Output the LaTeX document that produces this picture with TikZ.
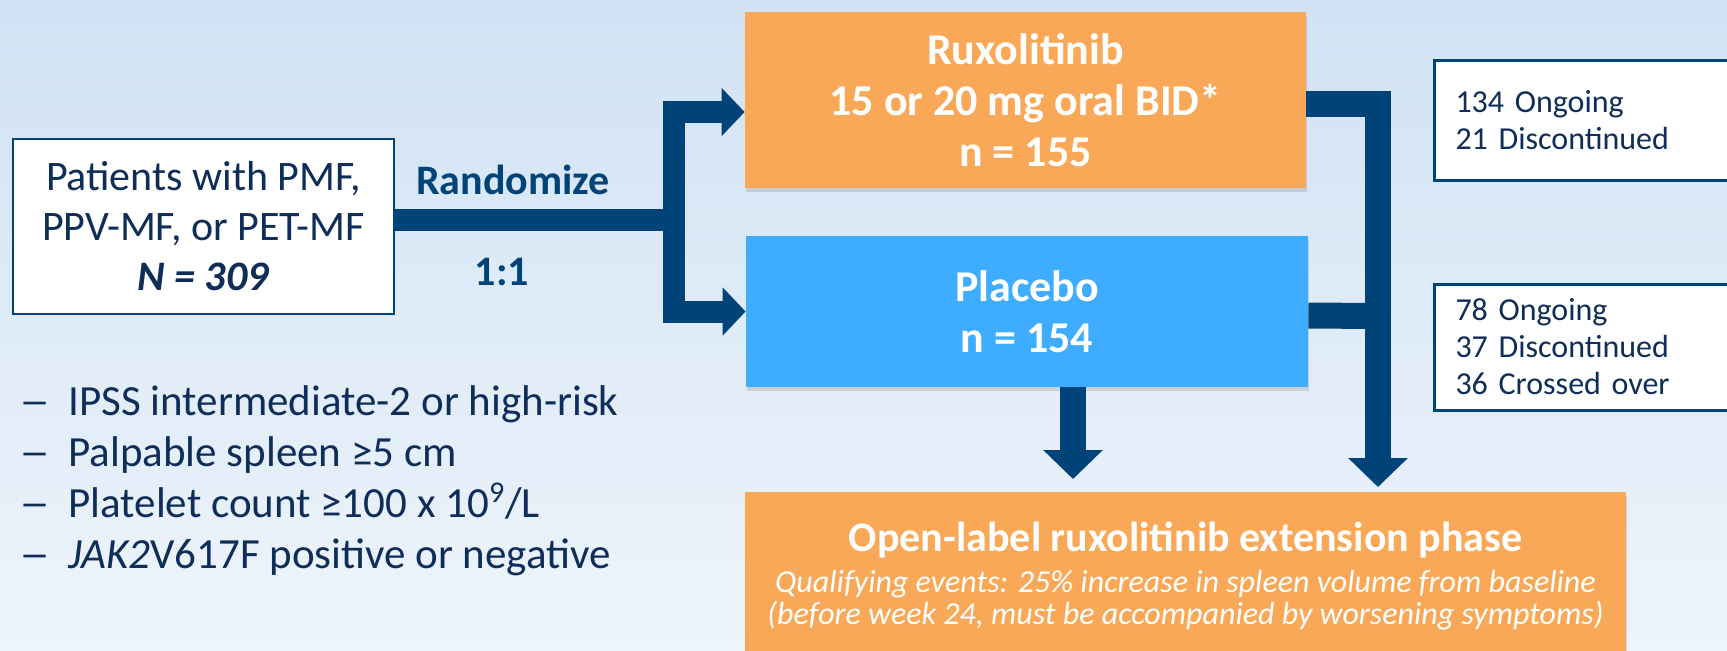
\documentclass[tikz,border=0pt]{standalone}
\usepackage{fontspec}
\usepackage{graphicx}
\setmainfont{Carlito}
\usetikzlibrary{arrows.meta,positioning,shadows}
\definecolor{cBgTop}{RGB}{208,226,244}
\definecolor{cBgBot}{RGB}{238,244,251}
\definecolor{cNavy} {RGB}{0,67,120}
\definecolor{cInk}  {RGB}{14,45,88}
\definecolor{cRux}  {RGB}{249,168,87}
\definecolor{cPbo}  {RGB}{62,172,255}
\tikzset{
  whitebox/.style={draw=cNavy,fill=white,line width=0.6pt,inner sep=0pt,align=center,
                   text=cInk,font=\fontsize{21}{25}\selectfont},
  armbox/.style={inner sep=0pt,align=center,text=white,
                 font=\bfseries\fontsize{22}{25.5}\selectfont,
                 drop shadow={shadow xshift=0.5pt,shadow yshift=-2pt,opacity=.25}},
  statbox/.style={draw=cNavy,fill=white,line width=1.5pt,inner xsep=10.5pt,inner ysep=0pt,
                  text width=142pt,align=left,text=cInk,font=\fontsize{16}{18.5}\selectfont},
  lbl/.style={inner sep=0pt,text=cNavy,font=\bfseries\fontsize{21}{25}\selectfont},
  crit/.style={inner sep=0pt,align=left,text=cInk,font=\fontsize{21.5}{25.6}\selectfont},
  bar/.style={draw=cNavy,line width=11pt},
  barR/.style={draw=cNavy,line width=13pt},
  headL/.style={-{Triangle[length=11.5pt,width=23.5pt]}},
  headD/.style={-{Triangle[length=14.5pt,width=29pt]}},
}
\newcommand{\critdash}{\makebox[24.5pt][l]{\scalebox{1.45}[1]{--}}}

\begin{document}
\begin{tikzpicture}[x=0.5pt,y=-0.5pt]
  % page and background
  \useasboundingbox (0,0) rectangle (1727,650);
  \shade[top color=cBgTop,bottom color=cBgBot] (0,0) rectangle (1727,650);
  % enrolment
  \node[whitebox,minimum width=190.5pt,minimum height=87.5pt] (pat) at (203.5,226.5)
    {Patients with PMF,\\PPV-MF, or PET-MF\\\textbf{\textit{N = 309}}};
  \node[lbl] (rand)  at (513,180) {Randomize};
  \node[lbl] (ratio) at (502,272) {1:1};
  \node[crit,anchor=north west] (crit) at (19,385) {%
    \critdash IPSS intermediate-2 or high-risk\\
    \critdash Palpable spleen ≥5 cm\\
    \critdash Platelet count ≥100 x 10\textsuperscript{9}/L\\
    \critdash \textit{JAK2}V617F positive or negative};
  % arms
  \node[armbox,fill=cRux,minimum width=280.5pt,minimum height=88pt] (rux) at (1025.5,100)
    {Ruxolitinib\\15 or 20 mg oral BID*\\n = 155};
  \node[armbox,fill=cPbo,minimum width=281pt,minimum height=75.5pt] (plc) at (1027,311.5)
    {Placebo\\n = 154};
  \node[armbox,fill=cRux,anchor=north,minimum width=440.5pt,inner ysep=15pt,
        font=\itshape\fontsize{16}{16}\selectfont] (ol) at (1185.5,492)
    {{\bfseries\upshape\fontsize{21}{21}\selectfont Open-label ruxolitinib extension phase}\\[4.5pt]
     Qualifying events: 25\% increase in spleen volume from baseline\\
     (before week 24, must be accompanied by worsening symptoms)};
  % status at cut-off
  \node[statbox,anchor=west,minimum height=60pt] (rxs) at (1433,120)
    {134 Ongoing\\21 Discontinued};
  \node[statbox,anchor=west,minimum height=63pt] (pls) at (1433,347)
    {78 Ongoing\\37 Discontinued\\36 Crossed over};

  % randomisation split
  \coordinate (split) at (674,220);
  \draw[bar] ([yshift=3.25pt]pat.east) -- (split);
  \draw[bar,headL] (split) |- ([yshift=-6pt]rux.west);
  \draw[bar,headL] (split) |- (plc.west);
  % into extension phase
  \coordinate (merge) at (1378,316);
  \draw[barR,headD,shorten >=2.5pt] ([yshift=-2pt]rux.east) -| ([xshift=96.25pt]ol.north);
  \draw[barR] ([yshift=-2pt]plc.east) -- (merge);
  \draw[barR,headD,shorten >=6.5pt] ([xshift=23pt]plc.south) -- ([xshift=23pt]plc.south |- ol.north);
\end{tikzpicture}
\end{document}
